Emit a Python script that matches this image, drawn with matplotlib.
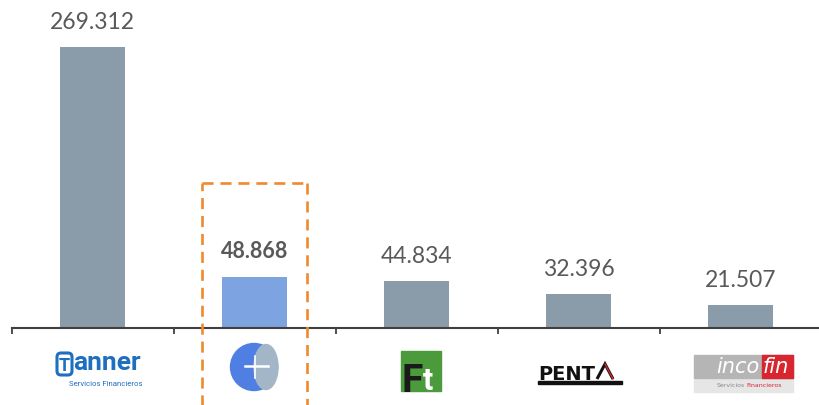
import matplotlib
matplotlib.use("Agg")
import matplotlib.pyplot as plt
from matplotlib.patches import Rectangle, Circle, Ellipse, FancyBboxPatch, Polygon
from matplotlib.lines import Line2D

# ---- data ----
companies = ["Tanner", "Eurocapital", "Factotal", "Penta", "Incofin"]
values = [269.312, 48.868, 44.834, 32.396, 21.507]
labels = ["269.312", "48.868", "44.834", "32.396", "21.507"]
highlight = 1

W, H = 819, 406
fig = plt.figure(figsize=(W / 100, H / 100), dpi=100)
base_px = 328.5
ax = fig.add_axes([11.5 / W, (H - base_px) / H, 810 / W, base_px / H])

grey = "#8a9ca9"
blue = "#7ea3e1"
colors = [blue if i == highlight else grey for i in range(len(values))]
x = list(range(len(values)))
ax.bar(x, values, width=0.4, color=colors, zorder=2)

ax.set_xlim(-0.5, len(values) - 0.5)
ax.set_ylim(0, base_px / 1.04)
for s in ["top", "right", "left"]:
    ax.spines[s].set_visible(False)
ax.spines["bottom"].set_color("#404040")
ax.spines["bottom"].set_linewidth(1.5)
ax.set_yticks([])
ax.set_xticks([i - 0.5 for i in range(len(values))])
ax.set_xticklabels([])
ax.tick_params(axis="x", direction="out", length=4, width=1.3, color="#404040")

for i, (v, lab) in enumerate(zip(values, labels)):
    bold = i == highlight
    ax.annotate(lab, (i, v), xytext=(0, 11), textcoords="offset points",
                ha="center", va="bottom", fontsize=16.5 if not bold else 15.5,
                fontweight="bold" if bold else "normal",
                color="#595959", family="Lato")

# dashed highlight box
orange = "#f08a2c"
half = 0.321
top = (base_px - 184) / 1.04
bot = -90
ls = (0, (4.2, 2.6))
for xs, ys in [([highlight - half, highlight - half], [bot, top]),
               ([highlight - half, highlight + half], [top, top]),
               ([highlight + half, highlight + half], [top, bot])]:
    ax.add_line(Line2D(xs, ys, color=orange, lw=1.9, linestyle=ls,
                       clip_on=False, zorder=5))

# ---- logos (drawn in pixel coords from top-left, via inches transform) ----
tr = fig.dpi_scale_trans

def P(px, py):
    return (px / 100, (H - py) / 100)

def L(n):
    return n / 100

# Tanner
tb = "#1f6fc0"
fig.patches.append(FancyBboxPatch(P(57, 376), L(15), L(22),
                                  boxstyle="round,pad=0,rounding_size=0.04",
                                  fill=False, ec=tb, lw=2.2, transform=tr))
fig.text(*P(64.5, 366), "T", color=tb, fontsize=13, fontweight="bold",
         ha="center", va="center", family="Roboto", transform=tr)
fig.text(*P(73, 370), "anner", color=tb, fontsize=19, fontweight="bold",
         ha="left", va="baseline", family="Roboto", transform=tr)
fig.text(*P(106, 384), "Servicios Financieros", color=tb, fontsize=5.6,
         ha="center", va="center", family="Roboto", transform=tr)

# Eurocapital-like circle logo
fig.patches.append(Circle(P(254, 368), L(23.5), transform=tr,
                          color="#4f7fe2", zorder=3))
fig.patches.append(Ellipse(P(266, 368), L(24), L(45), transform=tr,
                           color="#a3b6c7", zorder=4))
fig.add_artist(Line2D([L(245), L(268)], [P(0, 367)[1]] * 2, color="white",
                      lw=1.8, transform=tr, zorder=5))
fig.add_artist(Line2D([L(255), L(255)], [P(0, 357)[1], P(0, 379)[1]],
                      color="white", lw=1.2, transform=tr, zorder=5))

# Factotal
fig.patches.append(Rectangle(P(401, 392), L(40), L(40), transform=tr,
                             color="#4b9a3c"))
fig.text(*P(401, 392), "F", color="#1a1a1a", fontsize=28, fontweight="bold",
         ha="left", va="baseline", family="Roboto", transform=tr)
fig.text(*P(423, 390), "t", color="white", fontsize=22, fontweight="bold",
         ha="left", va="baseline", family="Roboto", transform=tr)

# Penta
pt = fig.text(*P(538, 380), "PENT", color="#111111", fontsize=14,
              fontweight="bold", ha="left", va="baseline", family="DejaVu Sans",
              transform=tr)
fig.canvas.draw()
ext = pt.get_window_extent()
xa = ext.x1 + 2
fig.patches.append(Polygon([(xa / 100, (H - 380) / 100),
                            ((xa + 8) / 100, (H - 365) / 100),
                            ((xa + 16) / 100, (H - 380) / 100)],
                           closed=False, fill=False, ec="#111111", lw=2.2,
                           transform=tr))
fig.add_artist(Line2D([(xa + 8) / 100, (xa + 16) / 100],
                      [(H - 365) / 100, (H - 380) / 100], color="#d7262f",
                      lw=1.0, transform=tr))
fig.patches.append(Rectangle(P(538, 385), L(84), L(3.5), transform=tr,
                             color="#111111"))

# Incofin
fig.patches.append(Rectangle(P(694, 393), L(99), L(15), transform=tr,
                             color="#e6e6e6"))
fig.patches.append(Rectangle(P(694, 379), L(99), L(23), transform=tr,
                             color="#b5b5b5"))
fig.patches.append(Rectangle(P(762, 379), L(31), L(23), transform=tr,
                             color="#d7262f"))
fig.text(*P(716, 367.5), "inco", color="white", fontsize=15, style="italic",
         ha="left", va="center", family="DejaVu Sans", transform=tr)
fig.text(*P(763, 367.5), "fin", color="white", fontsize=15, style="italic",
         ha="left", va="center", family="DejaVu Sans", transform=tr)
fig.text(*P(745, 386), "Servicios", color="#888888", fontsize=4.5,
         ha="right", va="center", family="DejaVu Sans", transform=tr)
fig.text(*P(746, 386), "Financieros", color="#d7262f", fontsize=4.5,
         ha="left", va="center", family="DejaVu Sans", transform=tr)

fig.savefig("out.png", dpi=100)
